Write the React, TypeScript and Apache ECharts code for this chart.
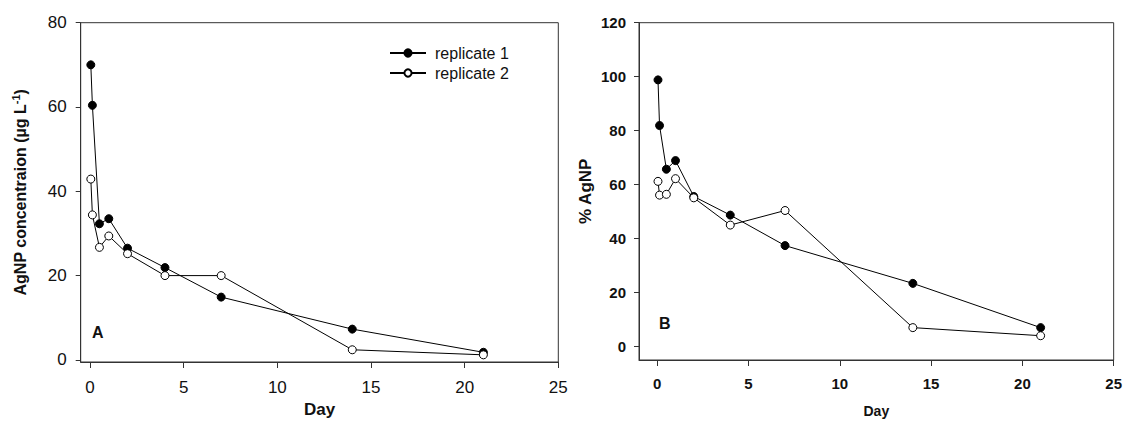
import React, { useEffect, useRef } from "react";
import * as echarts from "echarts";

const days = [0.04, 0.125, 0.5, 1, 2, 4, 7, 14, 21];
const concRep1 = [70.0, 60.4, 32.3, 33.5, 26.5, 21.9, 14.9, 7.3, 1.8];
const concRep2 = [42.9, 34.4, 26.7, 29.4, 25.2, 20.0, 20.0, 2.4, 1.2];
const pctRep1 = [98.8, 81.9, 65.7, 68.9, 55.6, 48.7, 37.4, 23.4, 7.0];
const pctRep2 = [61.2, 56.1, 56.4, 62.2, 55.1, 45.0, 50.4, 7.0, 4.0];
const xTicks = [0, 5, 10, 15, 20, 25];
const concTicks = [0, 20, 40, 60, 80];
const pctTicks = [0, 20, 40, 60, 80, 100, 120];
const seriesNames = ["replicate 1", "replicate 2"];

const FONT = "Liberation Sans, Arial, sans-serif";

function pair(xs: number[], ys: number[]) {
  return xs.map((x, i) => [x, ys[i]]);
}

export default function App() {
  const ref = useRef<HTMLDivElement>(null);
  useEffect(() => {
    if (!ref.current) return;
    const chart = echarts.init(ref.current, undefined, { renderer: "svg" });
    const axisLine = { show: true, onZero: false, lineStyle: { color: "#333", width: 1 } };
    const tick = (vals: number[], len: number) => ({
      show: true,
      length: len,
      inside: false,
      customValues: vals,
      lineStyle: { color: "#333", width: 1 },
    });
    const filled = (name: string, data: number[][], xi: number) => ({
      type: "line",
      name,
      xAxisIndex: xi,
      yAxisIndex: xi,
      data,
      symbol: "circle",
      symbolSize: 8,
      showSymbol: true,
      lineStyle: { color: "#000", width: 1 },
      itemStyle: { color: "#000", borderColor: "#000", borderWidth: 1 },
      z: 3,
    });
    const open = (name: string, data: number[][], xi: number) => ({
      type: "line",
      name,
      xAxisIndex: xi,
      yAxisIndex: xi,
      data,
      symbol: "circle",
      symbolSize: 8,
      showSymbol: true,
      lineStyle: { color: "#000", width: 1 },
      itemStyle: { color: "#fff", borderColor: "#000", borderWidth: 1 },
      z: 4,
    });
    chart.setOption({
      animation: false,
      backgroundColor: "#fff",
      textStyle: { fontFamily: FONT },
      grid: [
        { left: 80.7, top: 22.7, width: 477.6, height: 341.6, show: true, borderColor: "#333", borderWidth: 1, backgroundColor: "transparent" },
        { left: 639, top: 22.7, width: 476, height: 341.6, show: true, borderColor: "#333", borderWidth: 1, backgroundColor: "transparent" },
      ],
      legend: {
        data: seriesNames,
        orient: "vertical",
        left: 389,
        top: 45,
        padding: 0,
        itemWidth: 36,
        itemHeight: 9,
        itemGap: 4,
        textStyle: { fontFamily: FONT, fontSize: 16, color: "#111", padding: [0, 0, 0, 4] },
      },
      xAxis: [
        {
          type: "value",
          gridIndex: 0,
          min: -0.5,
          max: 25,
          splitLine: { show: false },
          axisLine,
          axisTick: tick(xTicks, 6),
          axisLabel: { customValues: xTicks, fontSize: 17, color: "#111", fontFamily: FONT, margin: 17 },
          name: "Day",
          nameLocation: "middle",
          nameGap: 39,
          nameTextStyle: { fontSize: 17, fontWeight: "bold", color: "#111", fontFamily: FONT },
        },
        {
          type: "value",
          gridIndex: 1,
          min: -1,
          max: 25,
          splitLine: { show: false },
          axisLine,
          axisTick: tick(xTicks, 6),
          axisLabel: { customValues: xTicks, fontSize: 15, fontWeight: "bold", color: "#111", fontFamily: FONT, margin: 16 },
          name: "Day",
          nameLocation: "middle",
          nameGap: 44,
          nameTextStyle: { fontSize: 14, fontWeight: "bold", color: "#111", fontFamily: FONT },
        },
      ],
      yAxis: [
        {
          type: "value",
          gridIndex: 0,
          min: -0.5,
          max: 80,
          splitLine: { show: false },
          axisLine,
          axisTick: tick(concTicks, 5),
          axisLabel: { customValues: concTicks, fontSize: 17, color: "#111", fontFamily: FONT, margin: 14 },
          name: "AgNP concentraion (µg L{sup|-1})",
          nameLocation: "middle",
          nameGap: 50,
          nameTextStyle: {
            fontSize: 16,
            fontWeight: "bold",
            color: "#111",
            fontFamily: FONT,
            lineHeight: 20,
            rich: {
              sup: { fontSize: 11, fontWeight: "bold", color: "#111", fontFamily: FONT, verticalAlign: "top", lineHeight: 20 },
            },
          },
        },
        {
          type: "value",
          gridIndex: 1,
          min: -5,
          max: 120,
          splitLine: { show: false },
          axisLine,
          axisTick: tick(pctTicks, 5),
          axisLabel: { customValues: pctTicks, fontSize: 15, fontWeight: "bold", color: "#111", fontFamily: FONT, margin: 13 },
          name: "% AgNP",
          nameLocation: "middle",
          nameGap: 45,
          nameTextStyle: { fontSize: 17, fontWeight: "bold", color: "#111", fontFamily: FONT },
        },
      ],
      graphic: [
        { type: "text", left: 92, top: 324, style: { text: "A", fontSize: 16, fontWeight: "bold", fontFamily: FONT, fill: "#111" } },
        { type: "text", left: 659, top: 315, style: { text: "B", fontSize: 16, fontWeight: "bold", fontFamily: FONT, fill: "#111" } },
      ],
      series: [
        filled(seriesNames[0], pair(days, concRep1), 0),
        open(seriesNames[1], pair(days, concRep2), 0),
        filled(seriesNames[0], pair(days, pctRep1), 1),
        open(seriesNames[1], pair(days, pctRep2), 1),
      ],
    });
    return () => chart.dispose();
  }, []);
  return <div ref={ref} style={{ position: "fixed", left: 0, top: 0, width: 1125, height: 423 }} />;
}
